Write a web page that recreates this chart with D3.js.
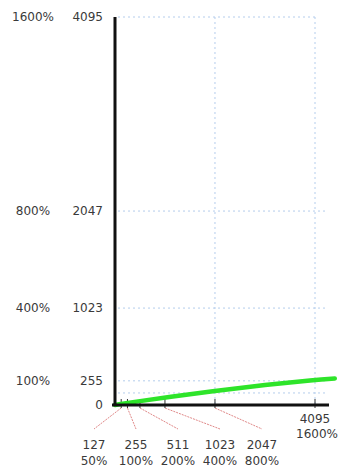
<!DOCTYPE html>
<html><head><meta charset="utf-8">
<script src="https://cdn.jsdelivr.net/npm/d3@7"></script>
<style>
html,body{margin:0;padding:0;background:#fff;}
svg text{font-family:"DejaVu Sans",Verdana,sans-serif;fill:#3a3a3a;}
</style></head>
<body>
<svg id="chart" width="344" height="470"></svg>
<script>
// ---- data ----
const yTickValues = [0, 255, 1023, 2047, 4095];
const yTickPercents = ["", "100%", "400%", "800%", "1600%"];
const gridYValues = [127, 255, 1023, 2047, 4095];
const gridXValues = [2047, 4095];
const xTickValues = [127, 255, 511, 1023, 2047];
const xTickPercents = ["50%", "100%", "200%", "400%", "800%"];
const xEndValue = 4095;
const xEndPercent = "1600%";
const curveX = [0, 511, 1023, 2047, 3071, 4095, 4500];
const curveY = [0, 42, 78, 150, 212, 264, 280];

// ---- layout ----
const svg = d3.select("#chart");
const x = d3.scaleLinear().domain([0, 4095]).range([115, 315]);
const y = d3.scaleLinear().domain([0, 4095]).range([405, 17]);

// grid
const grid = svg.append("g");
grid.selectAll("line.gy").data(gridYValues).enter().append("line")
  .attr("x1", x(0) + 3).attr("x2", d => d === 4095 ? x(4095) + 2 : x(4095) + 10)
  .attr("y1", d => y(d)).attr("y2", d => y(d))
  .attr("stroke", "#b4cdec").attr("stroke-width", 1).attr("stroke-dasharray", "2,3");
grid.selectAll("line.gx").data(gridXValues).enter().append("line")
  .attr("x1", d => x(d)).attr("x2", d => x(d))
  .attr("y1", y(4095)).attr("y2", y(0))
  .attr("stroke", "#b4cdec").attr("stroke-width", 1).attr("stroke-dasharray", "2,3");

// y-axis labels
const yl = svg.append("g");
yl.selectAll("text.num").data(yTickValues).enter().append("text")
  .attr("x", 103).attr("y", d => y(d)).attr("dy", "0.35em")
  .attr("text-anchor", "end").attr("font-size", 12).text(d => d);
yl.selectAll("text.pct").data(yTickValues).enter().append("text")
  .attr("x", 33).attr("y", d => y(d)).attr("dy", "0.35em")
  .attr("text-anchor", "middle").attr("font-size", 12)
  .text((d, i) => yTickPercents[i]);

// leader lines and x labels
const lx = d3.scalePoint().domain(xTickValues).range([94, 262]);
const ll = svg.append("g");
ll.selectAll("line").data(xTickValues).enter().append("line")
  .attr("x1", d => x(d)).attr("y1", y(0) + 3)
  .attr("x2", d => lx(d)).attr("y2", 429)
  .attr("stroke", "#e08888").attr("stroke-width", 1).attr("stroke-dasharray", "2,1");
ll.selectAll("text.num").data(xTickValues).enter().append("text")
  .attr("x", d => lx(d)).attr("y", 449).attr("text-anchor", "middle")
  .attr("font-size", 12).text(d => d);
ll.selectAll("text.pct").data(xTickValues).enter().append("text")
  .attr("x", d => lx(d)).attr("y", 465).attr("text-anchor", "middle")
  .attr("font-size", 12).text((d, i) => xTickPercents[i]);
ll.append("text").attr("x", x(xEndValue)).attr("y", 423).attr("text-anchor", "middle")
  .attr("font-size", 12).text(xEndValue);
ll.append("text").attr("x", x(xEndValue) + 2).attr("y", 438).attr("text-anchor", "middle")
  .attr("font-size", 12).text(xEndPercent);

// x ticks
svg.append("g").selectAll("line").data(xTickValues.concat([xEndValue])).enter().append("line")
  .attr("x1", d => x(d)).attr("x2", d => x(d))
  .attr("y1", y(0) - 6).attr("y2", y(0) + 3)
  .attr("stroke", "#333").attr("stroke-width", 1);

// green curve
const pts = curveX.map((v, i) => [v, curveY[i]]);
svg.append("path").datum(pts)
  .attr("fill", "none").attr("stroke", "#2ee42a").attr("stroke-width", 4.5)
  .attr("stroke-linecap", "round")
  .attr("d", d3.line().x(d => x(d[0])).y(d => y(d[1])).curve(d3.curveBasis));

// axes
svg.append("line").attr("x1", x(0)).attr("x2", x(0)).attr("y1", y(4095)).attr("y2", y(0) + 1)
  .attr("stroke", "#111").attr("stroke-width", 3);
svg.append("line").attr("x1", x(0) - 3).attr("x2", x(4095) + 14).attr("y1", y(0)).attr("y2", y(0))
  .attr("stroke", "#111").attr("stroke-width", 3);
</script>
</body></html>
